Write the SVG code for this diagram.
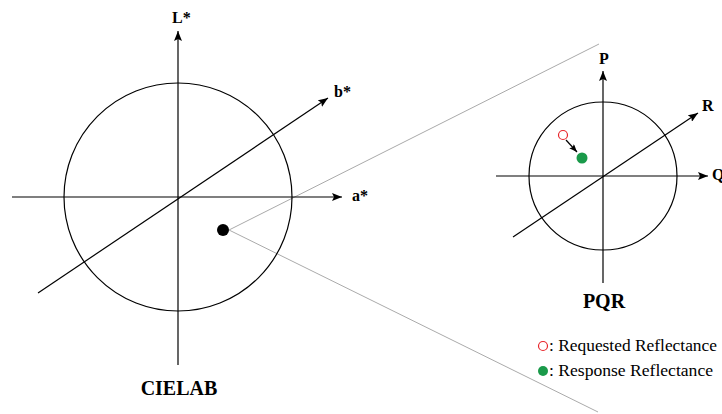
<svg xmlns="http://www.w3.org/2000/svg" width="722" height="414" viewBox="0 0 722 414">
<defs>
<marker id="ah" viewBox="0 0 10 8" refX="10" refY="4" markerWidth="10" markerHeight="8" markerUnits="userSpaceOnUse" orient="auto">
<path d="M0,0 L10,4 L0,8 L2,4 Z" fill="#000"/>
</marker>
<marker id="ahs" viewBox="0 0 10 8" refX="10" refY="4" markerWidth="8" markerHeight="6.4" markerUnits="userSpaceOnUse" orient="auto">
<path d="M0,0 L10,4 L0,8 L2,4 Z" fill="#000"/>
</marker>
</defs>
<g id="connectors" fill="none">
<line stroke="#aaa" stroke-width="1" x1="229" y1="230" x2="599" y2="44"/>
<line stroke="#aaa" stroke-width="1" x1="229" y1="230" x2="598" y2="412"/>
<line stroke="#000" stroke-width="1.2" x1="566" y1="140" x2="577" y2="152" marker-end="url(#ahs)"/>
</g>
<g id="cielab">
<g stroke="#000" stroke-width="1.2" fill="none">
<circle cx="178" cy="197" r="114"/>
<line x1="178" y1="365" x2="178" y2="31" marker-end="url(#ah)"/>
<line x1="12" y1="197" x2="342" y2="197" marker-end="url(#ah)"/>
<line x1="38" y1="293" x2="328" y2="98" marker-end="url(#ah)"/>
</g>
<text x="172" y="23" font-family="Times New Roman, Liberation Serif, serif" font-weight="bold" font-size="16">L*</text>
<text x="352" y="201" font-family="Times New Roman, Liberation Serif, serif" font-weight="bold" font-size="16">a*</text>
<text x="334" y="97" font-family="Times New Roman, Liberation Serif, serif" font-weight="bold" font-size="16">b*</text>
<circle cx="223" cy="230" r="6" fill="#000"/>
<text x="179" y="395" font-family="Times New Roman, Liberation Serif, serif" font-weight="bold" font-size="20" text-anchor="middle">CIELAB</text>
</g>
<g id="pqr">
<g stroke="#000" stroke-width="1.2" fill="none">
<circle cx="603" cy="176" r="74"/>
<line x1="603" y1="283" x2="603" y2="71" marker-end="url(#ah)"/>
<line x1="496" y1="176" x2="708" y2="176" marker-end="url(#ah)"/>
<line x1="513" y1="237" x2="698" y2="113" marker-end="url(#ah)"/>
</g>
<text x="599" y="64" font-family="Times New Roman, Liberation Serif, serif" font-weight="bold" font-size="16">P</text>
<text x="712" y="180" font-family="Times New Roman, Liberation Serif, serif" font-weight="bold" font-size="16">Q</text>
<text x="702" y="111" font-family="Times New Roman, Liberation Serif, serif" font-weight="bold" font-size="16">R</text>
<circle cx="563" cy="135" r="4.5" fill="#fff" stroke="#e8262b" stroke-width="1.2"/>
<circle cx="582" cy="158" r="5.5" fill="#1a9a4a"/>
<text x="604" y="308" font-family="Times New Roman, Liberation Serif, serif" font-weight="bold" font-size="20" text-anchor="middle">PQR</text>
</g>
<g id="legend">
<circle cx="543" cy="346" r="4.5" fill="#fff" stroke="#e8262b" stroke-width="1.2"/>
<text x="549" y="351" font-family="Times New Roman, Liberation Serif, serif" font-size="16" textLength="168" lengthAdjust="spacingAndGlyphs">: Requested Reflectance</text>
<circle cx="543" cy="371" r="5" fill="#1a9a4a"/>
<text x="549" y="376" font-family="Times New Roman, Liberation Serif, serif" font-size="16" textLength="164" lengthAdjust="spacingAndGlyphs">: Response Reflectance</text>
</g>
</svg>
